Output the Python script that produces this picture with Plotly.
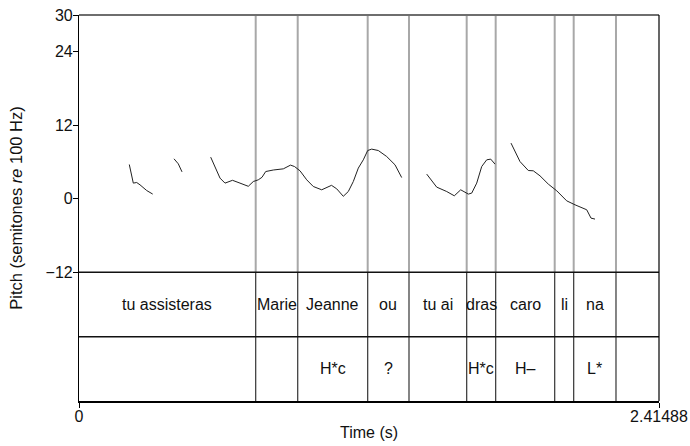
import plotly.graph_objects as go

# Pitch contour segments (time in s, pitch in semitones re 100 Hz)
seg1_t = [0.2094, 0.2261, 0.2402, 0.2540, 0.2819, 0.3069]
seg1_st = [5.60, 2.56, 2.66, 2.28, 1.35, 0.77]

seg2_t = [0.3955, 0.4134, 0.4289]
seg2_st = [6.53, 5.71, 4.40]

seg3_t = [0.5483, 0.5662, 0.5871, 0.6079, 0.6391, 0.6703, 0.7049, 0.7257,
          0.7465, 0.7619, 0.7773, 0.8090, 0.8506, 0.8806, 0.8973, 0.9202,
          0.9481, 0.9755, 1.0105, 1.0513, 1.0730, 1.1004, 1.1213, 1.1421,
          1.1629, 1.1837, 1.2020, 1.2187, 1.2462, 1.2811, 1.3157, 1.3436]
seg3_st = [6.80, 5.17, 3.38, 2.56, 3.02, 2.56, 2.04, 2.82,
           3.10, 3.51, 4.45, 4.70, 4.89, 5.50, 5.27, 4.57,
           3.10, 2.01, 1.47, 2.20, 1.63, 0.41, 1.19, 2.82,
           5.01, 6.36, 7.88, 8.11, 7.88, 6.90, 5.55, 3.47]

seg4_t = [1.4477, 1.4893, 1.5310, 1.5626, 1.5893, 1.6209, 1.6351, 1.6559,
          1.6767, 1.6975, 1.7142, 1.7321]
seg4_st = [4.03, 1.91, 1.19, 0.49, 1.47, 0.77, 0.93, 2.56,
           5.27, 6.36, 6.48, 5.66]

seg5_t = [1.7987, 1.8361, 1.8707, 1.8915, 1.9194, 1.9540, 1.9890, 2.0306,
          2.0651, 2.1139, 2.1318, 2.1484]
seg5_st = [9.09, 6.08, 4.62, 4.57, 3.75, 2.40, 1.31, -0.33,
           -0.98, -1.79, -3.15, -3.31]

segments = [(seg1_t, seg1_st), (seg2_t, seg2_st), (seg3_t, seg3_st),
            (seg4_t, seg4_st), (seg5_t, seg5_st)]

# TextGrid: interval boundaries and labels for the two tiers
t_start = 0.0
t_end = 2.41488
boundaries = [0.7357, 0.9106, 1.2020, 1.3740, 1.6142, 1.7349, 1.9806, 2.0597, 2.2358]
words = ["tu assisteras", "Marie", "Jeanne", "ou", "tu ai", "dras", "caro", "li", "na", ""]
tones = ["", "", "H*c", "?", "", "H*c", "H–", "", "L*", ""]

y_ticks = [-12, 0, 12, 24, 30]
y_tick_text = ["−12", "0", "12", "24", "30"]
x_ticks = [t_start, t_end]
x_tick_text = ["0", "2.41488"]

# Vertical layout in pitch units: pitch area then two tiers below
pitch_top = 30
pitch_bottom = -12
tier_split = -22.5
tier_bottom = -33

FONT = "Liberation Sans, Arial, Helvetica, sans-serif"

fig = go.Figure()

for t, st in segments:
    fig.add_trace(go.Scatter(x=t, y=st, mode="lines",
                             line=dict(color="#222222", width=1),
                             showlegend=False, hoverinfo="skip"))

shapes = []
for b in boundaries:
    # light line through the pitch area
    shapes.append(dict(type="line", xref="x", yref="y", x0=b, x1=b,
                       y0=pitch_bottom, y1=pitch_top,
                       line=dict(color="#a8a8a8", width=2), layer="below"))
    # dark line through the tiers
    shapes.append(dict(type="line", xref="x", yref="y", x0=b, x1=b,
                       y0=tier_bottom, y1=pitch_bottom,
                       line=dict(color="#333333", width=1.2)))

for yv in (pitch_bottom, tier_split):
    shapes.append(dict(type="line", xref="paper", yref="y", x0=0, x1=1,
                       y0=yv, y1=yv, line=dict(color="#111111", width=1.5)))

# frame: grey top, black right
shapes.append(dict(type="line", xref="paper", yref="paper", x0=0, x1=1, y0=1, y1=1,
                   line=dict(color="#6e6e6e", width=2)))
shapes.append(dict(type="line", xref="paper", yref="paper", x0=1, x1=1, y0=0, y1=1,
                   line=dict(color="#000000", width=1.2)))

annotations = []
edges = [t_start] + boundaries + [t_end]
for i in range(len(edges) - 1):
    mid = (edges[i] + edges[i + 1]) / 2
    if words[i]:
        annotations.append(dict(x=mid, y=(pitch_bottom + tier_split) / 2, text=words[i],
                                showarrow=False, xref="x", yref="y",
                                font=dict(family=FONT, size=16, color="#111111")))
    if tones[i]:
        annotations.append(dict(x=mid, y=(tier_split + tier_bottom) / 2, text=tones[i],
                                showarrow=False, xref="x", yref="y",
                                font=dict(family=FONT, size=16, color="#111111")))

fig.update_layout(
    width=690, height=446,
    margin=dict(l=79, r=31, t=15, b=45),
    paper_bgcolor="white", plot_bgcolor="white",
    shapes=shapes, annotations=annotations,
    font=dict(family=FONT, size=16, color="#111111"),
    xaxis=dict(range=[t_start, t_end], tickvals=x_ticks, ticktext=x_tick_text,
               automargin=False,
               showgrid=False, zeroline=False, showline=True,
               linecolor="#000000", linewidth=2, ticks="outside", ticklen=5,
               tickcolor="#000000", tickwidth=1.2, ticklabelstandoff=-5,
               title=dict(text="Time (s)", font=dict(family=FONT, size=16), standoff=3),
               tickfont=dict(family=FONT, size=16)),
    yaxis=dict(range=[tier_bottom, pitch_top], tickvals=y_ticks, ticktext=y_tick_text,
               automargin=False,
               showgrid=False, zeroline=False, showline=True,
               linecolor="#000000", linewidth=1.2, ticks="outside", ticklen=5,
               tickcolor="#000000", tickwidth=1.2, ticklabelstandoff=-3,
               title=dict(text="Pitch (semitones <i>re</i> 100 Hz)",
                          font=dict(family=FONT, size=16.5), standoff=18),
               tickfont=dict(family=FONT, size=16)),
)

fig.write_html("out.html")
